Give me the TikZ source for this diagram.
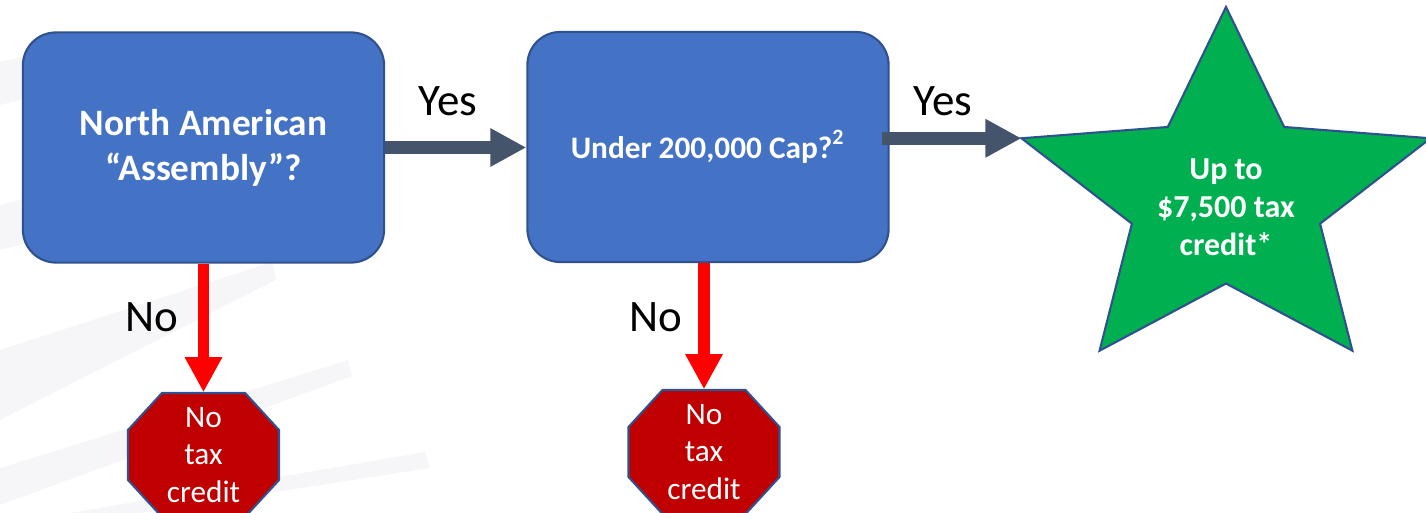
\documentclass[tikz,border=0pt]{standalone}
\usepackage{fontspec}
\setmainfont{Carlito}
\usetikzlibrary{arrows.meta,calc}
\definecolor{boxblue}{HTML}{4472C4}
\definecolor{edgeblue}{HTML}{2F528F}
\definecolor{slate}{HTML}{44546A}
\definecolor{stopred}{HTML}{C00000}
\definecolor{stargreen}{HTML}{00B050}
\definecolor{bandgray}{HTML}{F6F6F8}
\begin{document}
\begin{tikzpicture}[x=0.01cm,y=-0.01cm,
  qbox/.style={draw=edgeblue, line width=0.6pt, fill=boxblue, rounded corners=0.33cm,
    minimum width=3.61cm, minimum height=2.30cm, text=white, align=center, inner sep=0pt},
  lbl/.style={font=\fontsize{12.8}{15}\selectfont, anchor=base, inner sep=0pt},
  yesarrow/.style={draw=slate, line width=0.13cm, -{Triangle[length=0.36cm,width=0.36cm]}},
  noarrow/.style={draw=red, line width=0.11cm, -{Triangle[length=0.35cm,width=0.35cm]}},
  octbox/.style={minimum width=1.51cm, minimum height=1.24cm, inner sep=0pt, text=white,
    align=center, font=\fontsize{8.9}{10.7}\selectfont},
  octfill/.style={draw=edgeblue, line width=0.6pt, fill=stopred},
  starfill/.style={draw=edgeblue, line width=0.6pt, fill=stargreen},
  octo/.pic={\path[octfill] (-41.5,-62) -- (41.5,-62) -- (75.5,-25) -- (75.5,25) -- (41.5,62)
     -- (-41.5,62) -- (-75.5,25) -- (-75.5,-25) -- cycle;}
]
\useasboundingbox (0,0) rectangle (1426,513);
% faint background bands
\fill[bandgray] (0,62) -- (60,48) -- (60,90) -- (0,105) -- cycle;
\fill[bandgray] (0,205) -- (60,190) -- (60,235) -- (0,250) -- cycle;
\fill[bandgray] (0,350) -- (272,262) -- (276,280) -- (0,420) -- cycle;
\fill[bandgray] (0,468) -- (348,360) -- (352,376) -- (0,505) -- cycle;
\fill[bandgray] (70,513) -- (425,452) -- (430,468) -- (140,513) -- cycle;

% question boxes
\node[qbox, font=\bfseries\fontsize{10.6}{12.8}\selectfont] (b1) at (203.5,147.5)
  {North American\\“Assembly”?};
\node[qbox, font=\bfseries\fontsize{8.9}{10}\selectfont] (b2) at (708,147)
  {Under 200,000 Cap?\textsuperscript{2}};

% stop octagons
\coordinate (o1c) at (203.5,455);
\coordinate (o2c) at (704,452);
\pic at (o1c) {octo};
\pic at (o2c) {octo};
\node[octbox] (o1) at (o1c) {No\\tax\\credit};
\node[octbox] (o2) at (o2c) {No\\tax\\credit};

% star
\coordinate (sc) at (1226,197);
\path[starfill] ($(sc)+(0,-190)$) -- ($(sc)+(-58.2,-70)$) -- ($(sc)+(-204.5,-58.7)$)
  -- ($(sc)+(-94.1,26.7)$) -- ($(sc)+(-126.4,153.7)$) -- ($(sc)+(0,86.5)$)
  -- ($(sc)+(126.4,153.7)$) -- ($(sc)+(94.1,26.7)$) -- ($(sc)+(204.5,-58.7)$)
  -- ($(sc)+(58.2,-70)$) -- cycle;
\coordinate (starL) at ($(sc)+(-204.5,-58.7)$);
\node[font=\bfseries\fontsize{9.1}{10.8}\selectfont, text=white, align=center, inner sep=0pt]
  (star) at (1226,207) {Up to\\\$7,500 tax\\credit*};

% connectors
\coordinate (a2s) at ($(b2.east)+(-8,0)$);
\draw[yesarrow] (b1.east) -- (b1.east -| b2.west);
\draw[yesarrow] (a2s |- starL) -- (starL);
\draw[noarrow] (b1.south) -- (o1.north);
\draw[noarrow] (o2.north |- b2.south) -- (o2.north);

% labels
\node[lbl] (yes1) at (448,116) {Yes};
\node[lbl] (yes2) at (943,116) {Yes};
\node[lbl] (no1) at (152,332) {No};
\node[lbl] (no2) at (656,332) {No};
\end{tikzpicture}
\end{document}
